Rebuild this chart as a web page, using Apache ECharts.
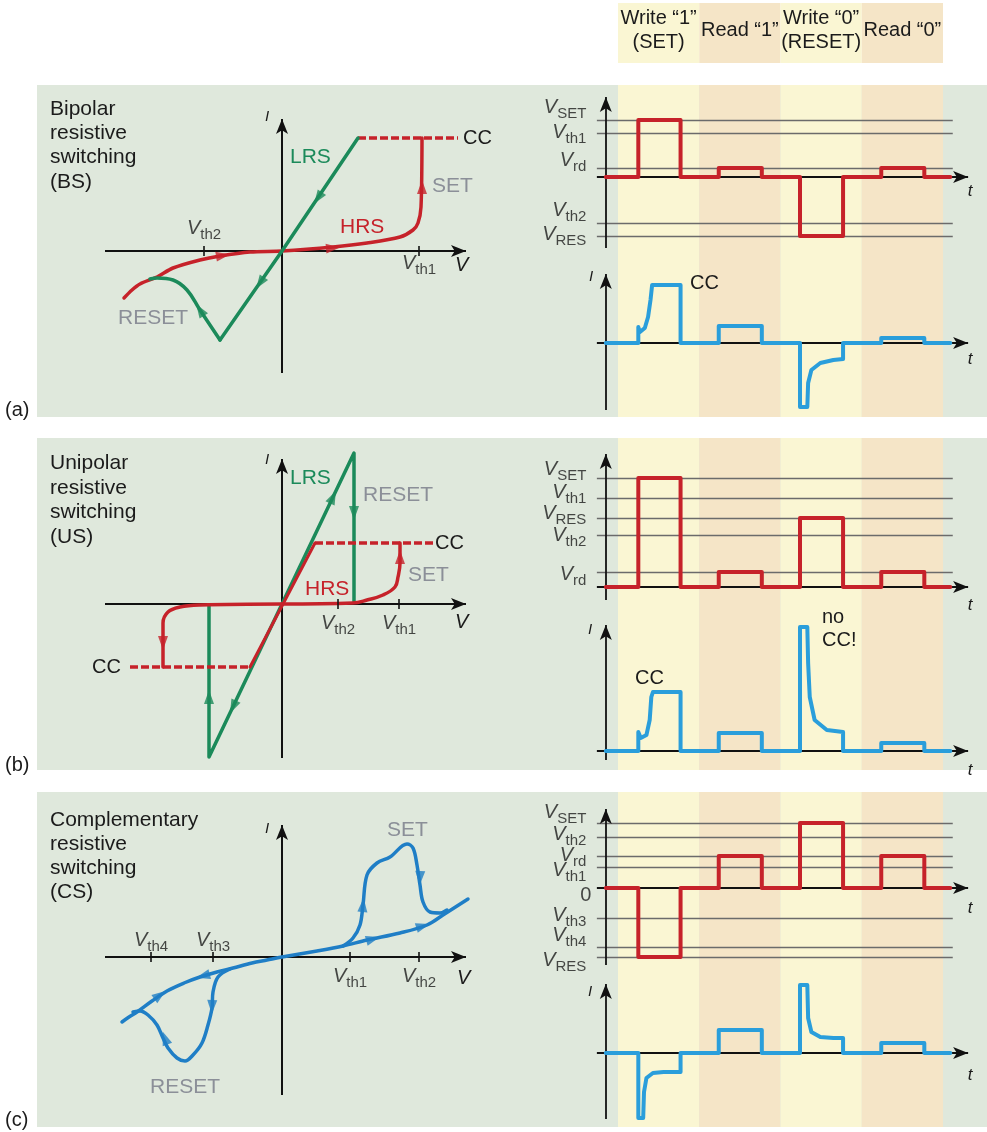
<!DOCTYPE html>
<html><head><meta charset="utf-8"><title>Resistive switching</title>
<script src="https://cdn.jsdelivr.net/npm/echarts@6.0.0/dist/echarts.min.js"></script>
<style>html,body{margin:0;padding:0;background:#fff;}#chart{width:987px;height:1132px;}</style>
</head><body><div id="chart"></div>
<script>
/* ================= DATA ================= */
// timing phases (time unit: 10 per phase)
const phaseNames = ['Write “1”\n(SET)', 'Read “1”', 'Write “0”\n(RESET)', 'Read “0”'];
const phaseStart = [0, 10, 20, 30];
const phaseEnd = [10, 20, 30, 40];

// (a) Bipolar resistive switching: I–V (arbitrary units)
const bsLRS = [[0.76, 1.13], [0, 0], [-0.62, -0.89]];
const bsResetBranch = [[-0.62, -0.89], [-0.82, -0.59], [-0.95, -0.39], [-1.09, -0.29], [-1.25, -0.27], [-1.32, -0.28]];
const bsHRS = [[-1.58, -0.47], [-1.50, -0.39], [-1.42, -0.33], [-1.25, -0.26], [-1.09, -0.17], [-0.82, -0.09], [-0.62, -0.05], [-0.32, -0.01], [0, 0],
  [0.51, 0.04], [0.85, 0.08], [1.18, 0.14], [1.31, 0.21], [1.36, 0.28], [1.39, 0.44], [1.40, 1.13]];
const bsCC = [[0.76, 1.13], [1.76, 1.13]];
const bsTicks = [['th2', -0.78], ['th1', 1.37]];
const bsArrowsGreen = [[0.36, 0.53, 146], [-0.22, -0.32, 146], [-0.82, -0.59, 33]];
const bsArrowsRed = [[1.40, 0.64, 0], [0.51, 0.03, -85], [-0.59, -0.045, -81]];
// (a) timing
const bsLevels = [['SET', 5.7], ['th1', 4.4], ['rd', 0.9], ['th2', -4.6], ['RES', -5.9]];
const bsV = [[-1.5, 0], [2.5, 5.7], [7.7, 0], [12.4, 0.9], [17.7, 0], [22.4, -5.9], [27.7, 0], [32.4, 0.9], [37.7, 0], [40.9, 0]];
const bsI = [[-1.5, 0], [2.5, 0], [2.5, 1.6], [2.7, 1.1], [3.3, 1.5], [3.7, 2.6], [4.0, 4.3], [4.2, 5.8], [7.7, 5.8], [7.7, 0],
  [12.4, 0], [12.4, 1.7], [17.7, 1.7], [17.7, 0], [22.4, 0], [22.4, -6.4], [23.3, -6.4], [23.4, -4.0], [23.8, -2.7], [24.9, -2.0],
  [26.5, -1.7], [27.7, -1.6], [27.7, 0], [32.4, 0], [32.4, 0.5], [37.7, 0.5], [37.7, 0], [40.9, 0]];

// (b) Unipolar resistive switching: I–V
const usLRS = [[-0.73, -0.01], [-0.73, -1.53], [0.72, 1.51], [0.72, 0.02]];
const usHRSright = [[0, 0], [0.71, 0.01], [0.85, 0.04], [1.01, 0.09], [1.13, 0.17], [1.16, 0.27], [1.18, 0.41], [1.18, 0.61]];
const usHRSleft = [[0, 0], [-0.82, -0.01], [-1.02, -0.03], [-1.14, -0.08], [-1.19, -0.19], [-1.19, -0.33], [-1.19, -0.63]];
const usLimited = [[-0.32, -0.63], [0.33, 0.61]];
const usCCpos = [[0.33, 0.61], [1.51, 0.61]];
const usCCneg = [[-1.52, -0.63], [-0.32, -0.63]];
const usTicks = [['th2', 0.56], ['th1', 1.17]];
const usArrowsGreen = [[0.51, 1.07, -25], [0.72, 0.91, 180], [-0.73, -0.93, 0], [-0.49, -1.03, 155]];
const usArrowsRed = [[1.18, 0.47, 0], [-1.19, -0.39, 180]];
// (b) timing
const usLevels = [['SET', 10.9], ['th1', 8.9], ['RES', 6.9], ['th2', 5.2], ['rd', 1.5]];
const usV = [[-1.5, 0], [2.5, 10.9], [7.7, 0], [12.4, 1.5], [17.7, 0], [22.4, 6.9], [27.7, 0], [32.4, 1.5], [37.7, 0], [40.9, 0]];
const usI = [[-1.5, 0], [2.5, 0], [2.5, 1.9], [2.8, 1.3], [3.5, 1.6], [3.9, 3.1], [4.1, 5.4], [4.3, 5.9], [7.7, 5.9], [7.7, 0],
  [12.4, 0], [12.4, 1.8], [17.7, 1.8], [17.7, 0], [22.4, 0], [22.4, 12.4], [23.3, 12.4], [23.4, 8.8], [23.6, 5.4], [24.2, 3.1],
  [25.7, 2.1], [27.7, 1.9], [27.7, 0], [32.4, 0], [32.4, 0.8], [37.7, 0.8], [37.7, 0], [40.9, 0]];

// (c) Complementary resistive switching: I–V
const csMain = [[-1.60, -0.65], [-1.53, -0.60], [-1.45, -0.55], [-1.30, -0.44], [-1.15, -0.34], [-0.98, -0.26], [-0.82, -0.20],
  [-0.65, -0.15], [-0.49, -0.11], [-0.30, -0.06], [-0.15, -0.03], [0, 0],
  [0.35, 0.06], [0.61, 0.11], [0.85, 0.17], [1.18, 0.24], [1.45, 0.32], [1.61, 0.42], [1.86, 0.58]];
const csSet = [[0.61, 0.11], [0.71, 0.19], [0.78, 0.32], [0.81, 0.52], [0.85, 0.82], [0.95, 0.94], [1.08, 1.00], [1.25, 1.13],
  [1.31, 1.09], [1.35, 0.92], [1.38, 0.72], [1.41, 0.55], [1.48, 0.45], [1.58, 0.44], [1.65, 0.47]];
const csReset = [[-0.52, -0.12], [-0.64, -0.20], [-0.69, -0.35], [-0.70, -0.51], [-0.74, -0.68], [-0.80, -0.86], [-0.89, -0.98],
  [-0.97, -1.04], [-1.05, -1.01], [-1.14, -0.91], [-1.19, -0.81], [-1.25, -0.68], [-1.34, -0.58], [-1.42, -0.54], [-1.49, -0.55]];
const csTicks = [['th4', -1.31], ['th3', -0.69], ['th1', 0.68], ['th2', 1.37]];
const csArrows = [[0.91, 0.18, -74], [1.41, 0.31, -73], [0.81, 0.52, -5], [1.38, 0.79, 178], [-0.79, -0.19, 105],
  [-1.22, -0.38, -54], [-0.70, -0.50, 178], [-1.17, -0.81, 20]];
// (c) timing
const csLevels = [['SET', 6.5], ['th2', 5.1], ['rd', 3.2], ['th1', 2.1], ['0', 0], ['th3', -3.0], ['th4', -5.9], ['RES', -6.9]];
const csV = [[-1.5, 0], [2.5, -6.9], [7.7, 0], [12.4, 3.2], [17.7, 0], [22.4, 6.5], [27.7, 0], [32.4, 3.2], [37.7, 0], [40.9, 0]];
const csI = [[-1.5, 0], [2.5, 0], [2.5, -6.5], [3.1, -6.5], [3.2, -3.9], [3.5, -2.5], [4.3, -2.0], [5.6, -1.9], [7.7, -1.9], [7.7, 0],
  [12.4, 0], [12.4, 2.3], [17.7, 2.3], [17.7, 0], [22.4, 0], [22.4, 6.8], [23.3, 6.8], [23.4, 3.5], [23.8, 2.1], [24.9, 1.6],
  [26.5, 1.5], [27.7, 1.5], [27.7, 0], [32.4, 0], [32.4, 1.0], [37.7, 1.0], [37.7, 0], [40.9, 0]];

/* ================= STYLE / LAYOUT ================= */
const FONT = '"Liberation Sans", Arial, Helvetica, sans-serif';
const C = {
  red: '#c6222a', green: '#1b8a5a', blue: '#2a9edb', blueIV: '#1f7ec6', gray: '#8b8f98', text: '#1b1b1b',
  axis: '#111111', ref: '#6b6b6b', panel: '#dfe8dc', yellow: '#faf6d3', tan: '#f5e5c7'
};
const T_PX = 8.125, T0_PX = 618, T_MIN = -2.6, T_MAX = 43.95;
const TL = T0_PX + T_MIN * T_PX, TW = (T_MAX - T_MIN) * T_PX;
const T_AXIS = -1.5, T_REF_END = 41.2;
const IVX = [-1.77, 1.91];

const RICH = {
  v: {fontFamily: FONT, fontSize: 20, fontStyle: 'italic', color: C.text, lineHeight: 22, verticalAlign: 'top'},
  s: {fontFamily: FONT, fontSize: 15, color: C.text, lineHeight: 15, padding: [9, 0, 0, 0], verticalAlign: 'top'},
  n: {fontFamily: FONT, fontSize: 20, color: C.text, lineHeight: 22}
};

const grids = [], xAxes = [], yAxes = [], series = [];
const G = {};
function addGrid(name, box, xr, yr) {
  const idx = grids.length;
  grids.push(Object.assign({show: false, containLabel: false}, box));
  xAxes.push({gridIndex: idx, type: 'value', min: xr[0], max: xr[1], show: false});
  yAxes.push({gridIndex: idx, type: 'value', min: yr[0], max: yr[1], show: false});
  G[name] = idx;
}
const TR = [T_MIN, T_MAX];
addGrid('hdr', {left: TL, width: TW, top: 3, height: 60}, TR, [0, 1]);
addGrid('bgA', {left: TL, width: TW, top: 85, height: 332}, TR, [0, 1]);
addGrid('bgB', {left: TL, width: TW, top: 438, height: 332}, TR, [0, 1]);
addGrid('bgC', {left: TL, width: TW, top: 792, height: 335}, TR, [0, 1]);
addGrid('ivA', {left: 105, width: 368, top: 112, height: 261}, IVX, [-1.22, 1.39]);
addGrid('vA', {left: TL, width: TW, top: 90, height: 158}, TR, [-7.1, 8.7]);
addGrid('iA', {left: TL, width: TW, top: 267, height: 143}, TR, [-6.7, 7.6]);
addGrid('ivB', {left: 105, width: 368, top: 452, height: 306}, IVX, [-1.54, 1.52]);
addGrid('vB', {left: TL, width: TW, top: 447, height: 153}, TR, [-1.3, 14.0]);
addGrid('iB', {left: TL, width: TW, top: 618, height: 142}, TR, [-0.9, 13.3]);
addGrid('ivC', {left: 105, width: 368, top: 818, height: 277}, IVX, [-1.38, 1.39]);
addGrid('vC', {left: TL, width: TW, top: 802, height: 163}, TR, [-7.7, 8.6]);
addGrid('iC', {left: TL, width: TW, top: 977, height: 142}, TR, [-6.6, 7.6]);

function ax(gi) { return {xAxisIndex: gi, yAxisIndex: gi}; }

// phase shading
function phaseBg(gi, withLabels) {
  return Object.assign(ax(gi), {
    type: 'line', data: [], silent: true, z: 1, symbol: 'none',
    markArea: {
      silent: true,
      data: phaseStart.map((s, i) => [
        {xAxis: s, name: phaseNames[i], itemStyle: {color: i % 2 ? C.tan : C.yellow},
          label: withLabels ? {show: true, position: 'inside', offset: [0, -3], formatter: '{b}', color: C.text,
            fontFamily: FONT, fontSize: 20, lineHeight: 24} : {show: false}},
        {xAxis: phaseEnd[i]}])
    }
  });
}
series.push(phaseBg(G.hdr, true), phaseBg(G.bgA, false), phaseBg(G.bgB, false), phaseBg(G.bgC, false));

// axis lines with arrows
function axisLines(gi, lines, width) {
  return Object.assign(ax(gi), {
    type: 'line', data: [], silent: true, z: 3, symbol: 'none',
    markLine: {
      silent: true, animation: false, symbol: ['none', 'arrow'], label: {show: false},
      lineStyle: {color: C.axis, width: width || 2, type: 'solid'},
      emphasis: {disabled: true},
      data: lines.map(l => [{coord: l[0]}, {coord: l[1], symbolSize: [9, 15]}])
    }
  });
}
function refLines(gi, levels) {
  return Object.assign(ax(gi), {
    type: 'line', data: [], silent: true, z: 2, symbol: 'none',
    markLine: {
      silent: true, animation: false, symbol: ['none', 'none'], label: {show: false},
      lineStyle: {color: C.ref, width: 1.3, type: 'solid'},
      emphasis: {disabled: true},
      data: levels.filter(l => l[0] !== '0').map(l => [{coord: [T_MIN, l[1]]}, {coord: [T_REF_END, l[1]]}])
    }
  });
}
function curve(gi, data, color, width, extra) {
  return Object.assign(ax(gi), {
    type: 'line', data: data, symbol: 'none', showSymbol: false, silent: true, z: 5,
    lineStyle: {color: color, width: width, cap: 'round', join: 'round'}, itemStyle: {color: color}
  }, extra || {});
}
function arrows(gi, arr, color) {
  return Object.assign(ax(gi), {
    type: 'scatter', silent: true, z: 6, symbol: 'triangle', symbolSize: [10, 14], itemStyle: {color: color},
    data: arr.map(a => ({value: [a[0], a[1]], symbolRotate: a[2]}))
  });
}
function ivTicks(gi, ticks, pos) {
  return Object.assign(ax(gi), {
    type: 'scatter', silent: true, z: 6, symbol: 'rect', symbolSize: [2, 10], itemStyle: {color: C.axis},
    data: ticks.map((tk, i) => ({
      value: [tk[1], 0],
      label: {show: true, position: pos[i][0], distance: pos[i][1], offset: [0, pos[i][2]],
        formatter: '{v|V}{s|' + tk[0] + '}', rich: RICH}
    }))
  });
}
function levelLabels(gi, levels, dys, dists) {
  return Object.assign(ax(gi), {
    type: 'scatter', silent: true, z: 10, symbolSize: 1, itemStyle: {color: 'rgba(0,0,0,0)'},
    data: levels.map((lv, i) => ({
      value: [T_MIN, lv[1]],
      label: {show: true, position: 'left', distance: dists ? dists[i] : 10, offset: [0, dys[i]],
        formatter: lv[0] === '0' ? '{n|0}' : '{v|V}{s|' + lv[0] + '}', rich: RICH}
    }))
  });
}
function ivAxes(gi, yr) {
  return axisLines(gi, [[[IVX[0], 0], [IVX[1] - 0.07, 0]], [[0, yr[0]], [0, yr[1] - 0.07]]], 2);
}
function timeAxes(gi, yr) {
  return axisLines(gi, [[[T_AXIS, yr[0]], [T_AXIS, yr[1] - 0.7]], [[T_MIN, 0], [T_MAX - 0.86, 0]]], 1.8);
}

/* ---- panel (a) ---- */
series.push(
  ivAxes(G.ivA, [-1.22, 1.39]),
  curve(G.ivA, bsCC, C.red, 3.5, {lineStyle: {color: C.red, width: 3.5, type: [8, 3]}}),
  curve(G.ivA, bsHRS, C.red, 3.5, {smooth: 0.3}),
  curve(G.ivA, bsLRS, C.green, 3.5),
  curve(G.ivA, bsResetBranch, C.green, 3.5, {smooth: 0.4}),
  arrows(G.ivA, bsArrowsGreen, C.green),
  arrows(G.ivA, bsArrowsRed, C.red),
  ivTicks(G.ivA, bsTicks, [['top', 6, 0], ['bottom', 0, -3]]),
  refLines(G.vA, bsLevels),
  timeAxes(G.vA, [-7.1, 8.7]),
  curve(G.vA, bsV, C.red, 4, {step: 'end'}),
  levelLabels(G.vA, bsLevels, [-11.5, 0.5, -6.5, -11.5, -0.5]),
  timeAxes(G.iA, [-6.7, 7.6]),
  curve(G.iA, bsI, C.blue, 4)
);
/* ---- panel (b) ---- */
series.push(
  ivAxes(G.ivB, [-1.54, 1.52]),
  curve(G.ivB, usLRS, C.green, 3.5),
  curve(G.ivB, usCCpos, C.red, 3.5, {lineStyle: {color: C.red, width: 3.5, type: [8, 3]}}),
  curve(G.ivB, usCCneg, C.red, 3.5, {lineStyle: {color: C.red, width: 3.5, type: [8, 3]}}),
  curve(G.ivB, usLimited, C.red, 3),
  curve(G.ivB, usHRSright, C.red, 3.5, {smooth: 0.4}),
  curve(G.ivB, usHRSleft, C.red, 3.5, {smooth: 0.4}),
  arrows(G.ivB, usArrowsGreen, C.green),
  arrows(G.ivB, usArrowsRed, C.red),
  ivTicks(G.ivB, usTicks, [['bottom', 4, 0], ['bottom', 4, 0]]),
  refLines(G.vB, usLevels),
  timeAxes(G.vB, [-1.3, 14.0]),
  curve(G.vB, usV, C.red, 4, {step: 'end'}),
  levelLabels(G.vB, usLevels, [-7.5, -4.5, -3.5, 1.5, 3.5]),
  timeAxes(G.iB, [-0.9, 13.3]),
  curve(G.iB, usI, C.blue, 4)
);
/* ---- panel (c) ---- */
series.push(
  ivAxes(G.ivC, [-1.38, 1.39]),
  curve(G.ivC, csMain, C.blueIV, 3.5, {smooth: 0.35}),
  curve(G.ivC, csSet, C.blueIV, 3.5, {smooth: 0.35}),
  curve(G.ivC, csReset, C.blueIV, 3.5, {smooth: 0.35}),
  arrows(G.ivC, csArrows, C.blueIV),
  ivTicks(G.ivC, csTicks, [['top', 0, 0], ['top', 0, 0], ['bottom', 4, 0], ['bottom', 4, 0]]),
  refLines(G.vC, csLevels),
  timeAxes(G.vC, [-7.7, 8.6]),
  curve(G.vC, csV, C.red, 4, {step: 'end'}),
  levelLabels(G.vC, csLevels, [-9.5, -1.5, 0, 4, 7, -2, -11, 4.5], [10, 10, 10, 10, 5, 10, 10, 10]),
  timeAxes(G.iC, [-6.6, 7.6]),
  curve(G.iC, csI, C.blue, 4)
);

/* ---- free text & panel backgrounds ---- */
function txt(t, x, y, o) {
  o = o || {};
  return {type: 'text', x: x, y: y, z: 100, silent: true,
    style: {text: t, fill: o.color || C.text, fontFamily: FONT, fontSize: o.size || 20,
      fontStyle: o.italic ? 'italic' : 'normal', align: o.align || 'left', verticalAlign: 'middle', lineHeight: o.lh || 24}};
}
function rect(x, y, w, h, fill) {
  return {type: 'rect', z: -10, silent: true, shape: {x: x, y: y, width: w, height: h}, style: {fill: fill}};
}
const graphic = [
  rect(37, 85, 950, 332, C.panel), rect(37, 438, 950, 332, C.panel), rect(37, 792, 950, 335, C.panel),
  txt('(a)', 5, 410), txt('(b)', 5, 765), txt('(c)', 5, 1120),
  txt('Bipolar\nresistive\nswitching\n(BS)', 50, 145.5, {size: 21, lh: 24.3}),
  txt('Unipolar\nresistive\nswitching\n(US)', 50, 500, {size: 21, lh: 24.5}),
  txt('Complementary\nresistive\nswitching\n(CS)', 50, 856, {size: 21, lh: 24}),
  // (a)
  txt('LRS', 290, 157, {color: C.green, size: 21}), txt('HRS', 340, 227, {color: C.red, size: 21}),
  txt('SET', 432, 186, {color: C.gray, size: 21}), txt('RESET', 118, 318, {color: C.gray, size: 21}),
  txt('CC', 463, 138), txt('V', 455, 265, {italic: true}), txt('I', 267, 117, {italic: true, size: 15, align: 'center'}),
  txt('CC', 690, 283), txt('I', 591, 277, {italic: true, size: 15, align: 'center'}),
  txt('t', 970, 191, {italic: true, size: 17, align: 'center'}), txt('t', 970, 359, {italic: true, size: 17, align: 'center'}),
  // (b)
  txt('LRS', 290, 478, {color: C.green, size: 21}), txt('RESET', 363, 495, {color: C.gray, size: 21}), txt('CC', 435, 543),
  txt('SET', 408, 575, {color: C.gray, size: 21}), txt('HRS', 305, 589, {color: C.red, size: 21}), txt('CC', 92, 667),
  txt('V', 455, 622, {italic: true}), txt('I', 267, 460, {italic: true, size: 15, align: 'center'}),
  txt('CC', 635, 678), txt('no\nCC!', 822, 628.5, {lh: 23}), txt('I', 590, 630, {italic: true, size: 15, align: 'center'}),
  txt('t', 970, 605, {italic: true, size: 17, align: 'center'}), txt('t', 970, 770, {italic: true, size: 17, align: 'center'}),
  // (c)
  txt('SET', 387, 830, {color: C.gray, size: 21}), txt('RESET', 150, 1087, {color: C.gray, size: 21}),
  txt('V', 457, 978, {italic: true}), txt('I', 267, 829, {italic: true, size: 15, align: 'center'}),
  txt('I', 590, 992, {italic: true, size: 15, align: 'center'}),
  txt('t', 970, 908, {italic: true, size: 17, align: 'center'}), txt('t', 970, 1075, {italic: true, size: 17, align: 'center'})
];

const chart = echarts.init(document.getElementById('chart'), null, {renderer: 'canvas'});
chart.setOption({
  animation: false,
  backgroundColor: '#ffffff',
  textStyle: {fontFamily: FONT},
  grid: grids, xAxis: xAxes, yAxis: yAxes,
  series: series,
  graphic: graphic
});
</script></body></html>
